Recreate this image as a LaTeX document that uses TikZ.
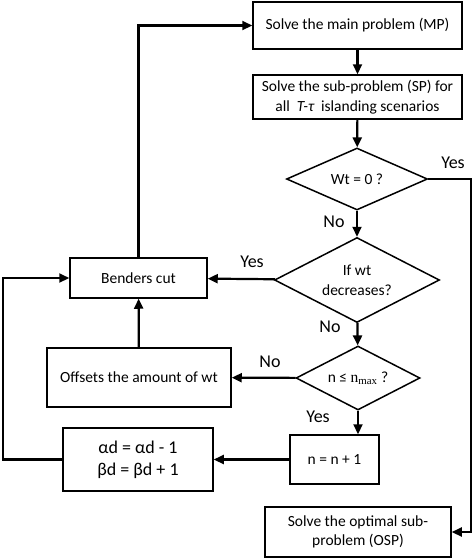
\documentclass[tikz,border=0pt]{standalone}
\usepackage{fontspec}
\setmainfont{Carlito}
\newfontfamily\timesfont{Liberation Serif}
\usepackage{tikz}
\usetikzlibrary{arrows.meta,shapes,positioning}
\tikzstyle{decision} = [diamond, aspect=2, inner sep=0pt, draw=black, line width=1.5pt, text centered, align=center]
\tikzstyle{arrow} = [line width=2.2pt,-{Triangle[length=10pt,width=9pt]}]

\begin{document}
\begin{tikzpicture}[
    x=1pt, y=-1pt,
    every node/.style={font=\fontsize{15.5}{19.5}\selectfont},
    box/.style={rectangle, draw=black, line width=1.5pt, inner sep=0pt, align=center},
    lbl/.style={font=\fontsize{18}{21}\selectfont}
]
\useasboundingbox (0,0) rectangle (474,558);

% Main column
\node[box, minimum width=209pt, minimum height=47pt] (mp) at (357.5,25.5) {Solve the main problem (MP)};
\node[box, minimum width=209pt, minimum height=44pt] (sp) at (357.5,97) {Solve the sub-problem (SP) for\\all \ {\itshape T-τ} \ islanding scenarios};

% Decisions
\node[decision, minimum width=141pt, minimum height=62pt] (wt) at (357,179) {Wt = 0 ?};
\node[decision, minimum width=165pt, minimum height=85pt] (dec) at (357,280) {If wt\\decreases?};
\node[decision, minimum width=124pt, minimum height=64pt] (nmax) at (358,378) {n ≤ {\timesfont n\textsubscript{max}} ?};

% Left column
\node[box, minimum width=137pt, minimum height=40pt] (benders) at (138.5,278) {Benders cut};
\node[box, minimum width=184pt, minimum height=59pt] (offset) at (139,377.5) {Offsets the amount of wt};
\node[box, minimum width=150pt, minimum height=63pt, font=\fontsize{18}{22}\selectfont] (ab) at (138,459.5) {αd = αd - 1\\βd = βd + 1};

% Bottom right
\node[box, minimum width=89pt, minimum height=49pt] (inc) at (334.5,459.5) {n = n + 1};
\node[box, minimum width=186pt, minimum height=50pt] (osp) at (358,532) {Solve the optimal sub-\\problem (OSP)};

% Corners of the outer loops
\coordinate (rgt) at (471,179);
\coordinate (lft) at (3,459.5);

% Labels
\node[lbl] (yes1) at (453,163) {Yes};
\node[lbl] (no1) at (334,222) {No};
\node[lbl] (yes2) at (252,262) {Yes};
\node[lbl] (no2) at (330,327) {No};
\node[lbl] (no3) at (270,362) {No};
\node[lbl] (yes3) at (318,417) {Yes};

% Arrows
\draw[arrow] (mp) -- (sp);
\draw[arrow] (sp) -- (wt);
\draw[arrow] (wt) -- (dec);
\draw[arrow] (dec) -- (nmax);
\draw[arrow] (dec) -- (benders);
\draw[arrow] (nmax) -- (offset);
\draw[arrow] (nmax.south) -- (nmax.south |- inc.north);
\draw[arrow] (inc) -- (ab);
\draw[arrow] (offset) -- (benders);
\draw[arrow] (benders.north) |- (mp.west);
\draw[arrow] (ab.west) -- (lft) |- (benders.west);
\draw[arrow] (wt.east) -- (rgt) |- (osp.east);

\end{tikzpicture}
\end{document}
